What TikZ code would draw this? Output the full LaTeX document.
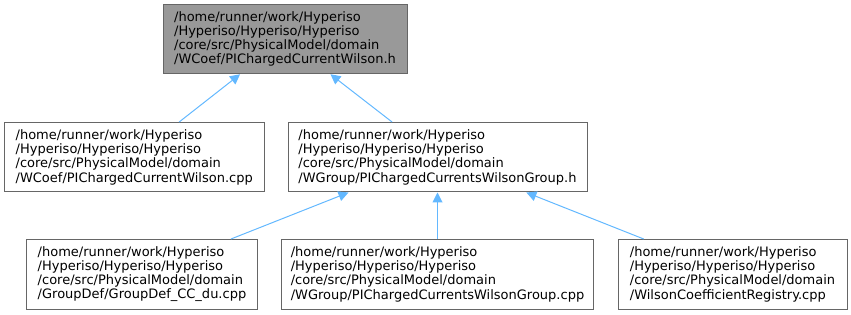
\documentclass[tikz,border=0pt]{standalone}
\usepackage{fontspec}
\setmainfont{DejaVu Sans}
\usepackage{tikz}
\usetikzlibrary{arrows.meta}
\definecolor{dgrey}{HTML}{999999}
\definecolor{dborder}{HTML}{666666}
\definecolor{dedge}{HTML}{63B8FF}
\tikzset{
 file/.style={draw=dborder, fill=white, line width=1pt, align=left, minimum height=69.5pt, inner sep=0pt, font=\fontsize{13}{14.2}\selectfont},
 edge/.style={-{Triangle[length=10pt,width=10pt]}, dedge, line width=1pt}
}
\newcommand{\hpath}{/home/runner/work/Hyperiso\\/Hyperiso/Hyperiso/Hyperiso\\/core/src/PhysicalModel/domain\\}

\begin{document}
\begin{tikzpicture}[x=1pt,y=-1pt]
 \useasboundingbox (0,0) rectangle (851,315);
 \node[file, fill=dgrey, minimum width=244pt] (wilsonh) at (285,39) {\hpath/WCoef/PIChargedCurrentWilson.h};
 \node[file, minimum width=259.5pt] (wilsoncpp) at (134.25,157.25) {\hpath/WCoef/PIChargedCurrentWilson.cpp};
 \node[file, minimum width=299pt] (grouph) at (437.5,157.25) {\hpath/WGroup/PIChargedCurrentsWilsonGroup.h};
 \node[file, minimum width=231pt] (ccdu) at (142,274.25) {\hpath/GroupDef/GroupDef\_CC\_du.cpp};
 \node[file, minimum width=312pt] (groupcpp) at (437.5,274.25) {\hpath/WGroup/PIChargedCurrentsWilsonGroup.cpp};
 \node[file, minimum width=229pt] (registry) at (732.5,274.25) {\hpath/WilsonCoefficientRegistry.cpp};
 \draw[edge] (wilsoncpp) -- (wilsonh);
 \draw[edge] (grouph) -- (wilsonh);
 \draw[edge] (ccdu) -- (grouph);
 \draw[edge] (groupcpp) -- (grouph);
 \draw[edge] (registry) -- (grouph);
\end{tikzpicture}
\end{document}
